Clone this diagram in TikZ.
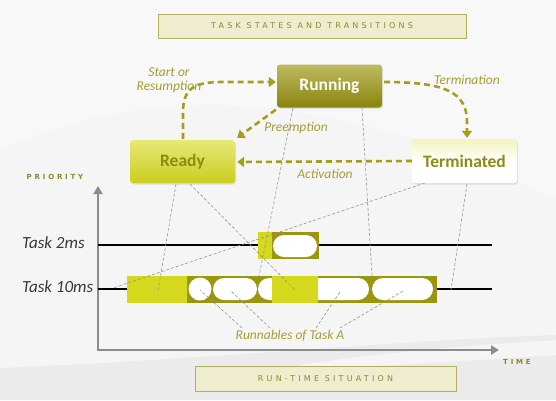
\documentclass[tikz,border=0pt]{standalone}
\usepackage{fontspec}
\setmainfont{Carlito}
\newfontfamily\capsfont[LetterSpace=40]{DejaVu Sans}
\usetikzlibrary{arrows.meta,calc,shadows}
\definecolor{olv}{HTML}{9C960E}
\definecolor{ylw}{HTML}{D6D81E}
\definecolor{lbl}{HTML}{A49E34}
\definecolor{arr}{HTML}{A59E1C}
\definecolor{beige}{HTML}{EEEDCF}
\definecolor{beigeline}{HTML}{B5AE5C}
\definecolor{headtxt}{HTML}{8E882A}
\definecolor{stxt}{HTML}{8F8A10}
\begin{document}
\begin{tikzpicture}[x=1pt,y=-1pt,
  statebox/.style={rounded corners=3pt, minimum width=105pt, minimum height=43pt,
    inner sep=0pt, font=\bfseries\fontsize{17.5}{19}\selectfont,
    drop shadow={shadow xshift=1pt,shadow yshift=-1.5pt,opacity=0.2}},
  trans/.style={draw=arr, line width=2.6pt, dash pattern=on 6pt off 4pt,
    -{Triangle[width=10pt,length=7pt]}},
  lab/.style={text=lbl, font=\itshape\fontsize{13.5}{14}\selectfont, align=center, inner sep=1pt},
  headbox/.style={draw=beigeline, line width=1pt, fill=beige, inner sep=0pt},
  headtext/.style={text=headtxt, font=\capsfont\fontsize{8}{9}\selectfont, inner sep=0pt},
  tasklab/.style={text=black!78, font=\itshape\fontsize{17}{19}\selectfont, inner sep=0pt, anchor=west},
  axis/.style={draw=black!45, line width=2.4pt, {Triangle[width=9pt,length=8pt]}-{Triangle[width=9pt,length=8pt]}},
  tline/.style={draw=black, line width=2.6pt},
  guide/.style={draw=black!42, line width=0.6pt, dash pattern=on 3pt off 2pt},
  pill/.style={fill=white, rounded corners=11pt}
]
\useasboundingbox (0,0) rectangle (556,400);
% background
\fill[black!4] (0,0) rectangle (556,400);
\fill[white, opacity=0.35] (0,0) -- (556,0) -- (556,200) .. controls (400,120) and (200,60) .. (0,150) -- cycle;
\fill[black!8] (0,400) -- (0,368) .. controls (200,360) and (400,340) .. (556,335) -- (556,400) -- cycle;
\fill[white, opacity=0.5] (300,365) .. controls (400,350) and (480,345) .. (556,340) -- (556,355) .. controls (480,360) and (400,365) .. (300,370) -- cycle;

% headings
\node[headbox, minimum width=308pt, minimum height=24pt] (htop) at (312,26) {};
\node[headtext] (htoptxt) at (htop) {TASK STATES AND TRANSITIONS};
\node[headbox, minimum width=261pt, minimum height=25pt] (hbot) at (325.5,378.5) {};
\node[headtext] (hbottxt) at (hbot) {RUN-TIME SITUATION};

% states
\node[statebox, top color=olv!65!white, bottom color=olv!88!black, text=white] (running) at (329.5,86) {Running};
\node[statebox, top color=ylw!60!white, bottom color=ylw!95!black, text=stxt, minimum height=43pt] (ready) at (182.5,161.5) {Ready};
\node[statebox, top color=ylw!30!white, bottom color=white, middle color=white, text=stxt, minimum height=44pt] (term) at (464.5,161) {Terminated};

% transitions
\coordinate (rs1) at ($(ready.north)+(0.5,-1)$);
\coordinate (rs2) at ($(running.west)+(-1,-4)$);
\draw[trans] (rs1) -- (183,112) .. controls (183,88) and (195,82) .. (222,82) -- (rs2);
\coordinate (te1) at ($(running.east)+(2,-4)$);
\coordinate (te2) at ($(term.north)+(2.5,-1)$);
\draw[trans] (te1) .. controls (445,82) and (467,92) .. (467,122) -- (te2);
\coordinate (pr1) at ($(running.south west)+(-1,2)$);
\coordinate (pr2) at ($(ready.north east)+(2,-2)$);
\draw[trans] (pr1) -- (pr2);
\draw[trans] (term.west) -- ($(ready.east)+(2,0.5)$);

\node[lab] (lstart) at (169,80) {Start or\\Resumption};
\node[lab] (lpre) at (296,128) {Preemption};
\node[lab] (lterm) at (467,80) {Termination};
\node[lab] (lact) at (325,174) {Activation};

% axes
\coordinate (ytop) at (98,186);
\coordinate (origin) at (98,350);
\coordinate (xend) at (499,350);
\draw[axis] (ytop) -- (origin) -- (xend);
\node[headtext, font=\capsfont\bfseries\fontsize{7}{8}\selectfont] (prio) at (55,177) {PRIORITY};
\node[headtext, font=\capsfont\bfseries\fontsize{7}{8}\selectfont] (time) at (517,362) {TIME};

% tasks
\node[tasklab] (t2) at (22,243) {Task 2ms};
\node[tasklab] (t10) at (22,287) {Task 10ms};
\coordinate (l2a) at (98,245); \coordinate (l2b) at (492,245);
\coordinate (l10a) at (98,289); \coordinate (l10b) at (492,289);
\draw[tline] (l2a) -- (l2b);
\draw[tline] (l10a) -- (l10b);

% 2ms bar
\fill[olv] (271,232) rectangle (319,259);
\fill[pill] (273,235) rectangle (317,257);
\fill[ylw] (258,232) rectangle (272,259);

% 10ms bar
\fill[olv] (187,276) rectangle (437,303);
\fill[white] (200,289) circle (11.5);
\fill[pill] (213,278) rectangle (257,300);
\fill[pill] (258,278) rectangle (369,300);
\fill[pill] (372,278) rectangle (433,300);
\fill[ylw] (127,276) rectangle (187,303);
\fill[ylw] (272,276) rectangle (318,303);

% guide lines
\coordinate (g1a) at (176,184); \coordinate (g1b) at (158,291);
\coordinate (g2a) at (190,184); \coordinate (g2b) at (295,290);
\coordinate (g3a) at (293,108); \coordinate (g3b) at (259,276);
\coordinate (g4a) at (362,108); \coordinate (g4b) at (372,276);
\coordinate (g5a) at (425,183); \coordinate (g5b) at (113,288);
\coordinate (g6a) at (467,184); \coordinate (g6b) at (451,290);
\draw[guide] (g1a) -- (g1b);
\draw[guide] (g2a) -- (g2b);
\draw[guide] (g3a) -- (g3b);
\draw[guide] (g4a) -- (g4b);
\draw[guide] (g5a) -- (g5b);
\draw[guide] (g6a) -- (g6b);

\node[lab] (runn) at (290,336) {Runnables of Task A};
\coordinate (ra) at (200,290); \coordinate (rb) at (230,290);
\coordinate (rc) at (340,292); \coordinate (rd) at (403,291);
\draw[guide] (242,328) -- (ra);
\draw[guide] (270,328) -- (rb);
\draw[guide] (316,328) -- (rc);
\draw[guide] (340,328) -- (rd);
\end{tikzpicture}
\end{document}
